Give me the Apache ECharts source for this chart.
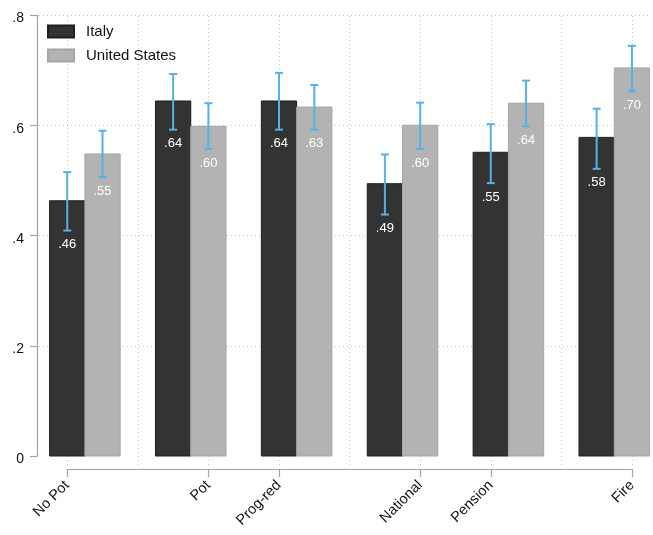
<!DOCTYPE html>
<html>
<head>
<meta charset="utf-8">
<script src="https://cdn.jsdelivr.net/npm/echarts@6/dist/echarts.min.js"></script>
<style>
html,body{margin:0;padding:0;background:#fff;}
#chart{width:653px;height:535px;}
</style>
</head>
<body>
<div id="chart"></div>
<script>
// ---- data ----
const categories = ['No Pot', 'Pot', 'Prog-red', 'National', 'Pension', 'Fire'];
const italyValues = [0.463, 0.644, 0.644, 0.494, 0.551, 0.578];
const italyLow    = [0.409, 0.592, 0.592, 0.438, 0.495, 0.521];
const italyHigh   = [0.515, 0.693, 0.695, 0.547, 0.602, 0.630];
const usValues    = [0.548, 0.598, 0.633, 0.600, 0.640, 0.704];
const usLow       = [0.506, 0.557, 0.592, 0.557, 0.598, 0.662];
const usHigh      = [0.590, 0.640, 0.673, 0.641, 0.681, 0.744];
const xTickValues = [1, 3, 4, 6, 7, 9];
const xTickLabels = ['No Pot', 'Pot', 'Prog-red', 'National', 'Pension', 'Fire'];
const yTickValues = [0, 0.2, 0.4, 0.6, 0.8];
const yTickLabels = ['0', '.2', '.4', '.6', '.8'];

// ---- build ----
const FONT = "'Liberation Sans', Arial, Helvetica, sans-serif";
const italyPos = categories.map((c, i) => 1 + 1.5 * i);
const usPos = categories.map((c, i) => 1.5 + 1.5 * i);
const barHalf = 0.25;

const italyBars = italyValues.map((v, i) => [italyPos[i], v]);
const usBars = usValues.map((v, i) => [usPos[i], v]);
const ciData = [];
italyValues.forEach((v, i) => ciData.push([italyPos[i], italyLow[i], italyHigh[i], v]));
usValues.forEach((v, i) => ciData.push([usPos[i], usLow[i], usHigh[i], v]));

function fmtVal(v) {
  return v.toFixed(2).replace(/^0/, '');
}

function renderBar(params, api) {
  const x = api.value(0), y = api.value(1);
  const p0 = api.coord([x - barHalf, y]);
  const p1 = api.coord([x + barHalf, 0]);
  return {
    type: 'rect',
    shape: { x: p0[0], y: p0[1], width: p1[0] - p0[0], height: p1[1] - p0[1] },
    style: api.style()
  };
}

function renderCI(params, api) {
  const x = api.value(0), lo = api.value(1), hi = api.value(2), v = api.value(3);
  const pl = api.coord([x, lo]);
  const ph = api.coord([x, hi]);
  const cap = 4;
  const ls = { stroke: '#56b1e6', lineWidth: 2 };
  return {
    type: 'group',
    children: [
      { type: 'line', shape: { x1: pl[0], y1: pl[1], x2: ph[0], y2: ph[1] }, style: ls },
      { type: 'line', shape: { x1: pl[0] - cap, y1: pl[1], x2: pl[0] + cap, y2: pl[1] }, style: ls },
      { type: 'line', shape: { x1: ph[0] - cap, y1: ph[1], x2: ph[0] + cap, y2: ph[1] }, style: ls },
      { type: 'text', x: pl[0], y: pl[1] + 14,
        style: { text: fmtVal(v), fill: '#ffffff', font: '13px ' + FONT, align: 'center', verticalAlign: 'middle' } }
    ]
  };
}

const gridVals = [];
for (let v = 1; v <= 9; v++) gridVals.push({ xAxis: v });

const chart = echarts.init(document.getElementById('chart'), null, { renderer: 'canvas' });
chart.setOption({
  animation: false,
  backgroundColor: '#ffffff',
  textStyle: { fontFamily: FONT },
  grid: [
    { left: 39, right: 2, top: 15, bottom: 70 },
    { left: 39, right: 2, top: 15, bottom: 79 },
    { left: 67, right: 21, top: 468, height: 1 }
  ],
  xAxis: [
    { gridIndex: 0, type: 'value', min: 0.6, max: 9.27, show: false },
    { gridIndex: 1, type: 'value', min: 0.6, max: 9.27, show: false },
    { gridIndex: 2, type: 'value', min: 1, max: 9, position: 'bottom',
      axisLine: { show: true, lineStyle: { color: '#a3a3a3', width: 1.2 } },
      axisTick: { show: true, length: 8, customValues: xTickValues, lineStyle: { color: '#a3a3a3', width: 1.2 } },
      axisLabel: { show: true, rotate: 45, margin: 14, customValues: xTickValues,
        formatter: (v) => { const k = xTickValues.indexOf(v); return k >= 0 ? xTickLabels[k] : ''; },
        color: '#111', fontSize: 14.5, fontFamily: FONT },
      splitLine: { show: false } }
  ],
  yAxis: [
    { gridIndex: 0, type: 'value', min: -0.0163, max: 0.8, show: false },
    { gridIndex: 1, type: 'value', min: 0, max: 0.8, interval: 0.2, offset: 2,
      axisLine: { show: true, lineStyle: { color: '#a3a3a3', width: 1.2 } },
      axisTick: { show: true, length: 7, lineStyle: { color: '#a3a3a3', width: 1.2 } },
      axisLabel: { margin: 13, color: '#111', fontSize: 14, fontFamily: FONT,
        verticalAlign: 'top', lineHeight: 7,
        formatter: (v) => { const k = yTickValues.findIndex(t => Math.abs(t - v) < 1e-9); return k >= 0 ? yTickLabels[k] : ''; } },
      splitLine: { show: true, showMinLine: false, lineStyle: { color: '#c8c8c8', type: [1, 3], width: 1 } } },
    { gridIndex: 2, type: 'value', show: false }
  ],
  legend: {
    left: 47, top: 24, padding: 0, orient: 'vertical', icon: 'rect',
    itemWidth: 26, itemHeight: 12, itemGap: 9,
    data: ['Italy', 'United States'],
    textStyle: { fontSize: 15, color: '#111', fontFamily: FONT, padding: [0, 0, 0, 7] },
    selectedMode: false
  },
  series: [
    { type: 'line', xAxisIndex: 0, yAxisIndex: 0, data: [], silent: true, z: 0,
      markLine: { silent: true, z: 0, zlevel: 0, symbol: 'none', animation: false, label: { show: false },
        lineStyle: { color: '#c8c8c8', type: [1, 3], width: 1 }, data: gridVals } },
    { name: 'Italy', type: 'custom', xAxisIndex: 0, yAxisIndex: 0, renderItem: renderBar,
      itemStyle: { color: '#333333', borderColor: '#1f1f1f', borderWidth: 1 },
      encode: { x: 0, y: 1 }, data: italyBars, z: 2 },
    { name: 'United States', type: 'custom', xAxisIndex: 0, yAxisIndex: 0, renderItem: renderBar,
      itemStyle: { color: '#b3b3b3', borderColor: '#a6a6a6', borderWidth: 1 },
      encode: { x: 0, y: 1 }, data: usBars, z: 2 },
    { name: 'CI', type: 'custom', xAxisIndex: 0, yAxisIndex: 0, renderItem: renderCI,
      encode: { x: 0, y: [1, 2] }, data: ciData, z: 3 }
  ]
});
</script>
</body>
</html>
